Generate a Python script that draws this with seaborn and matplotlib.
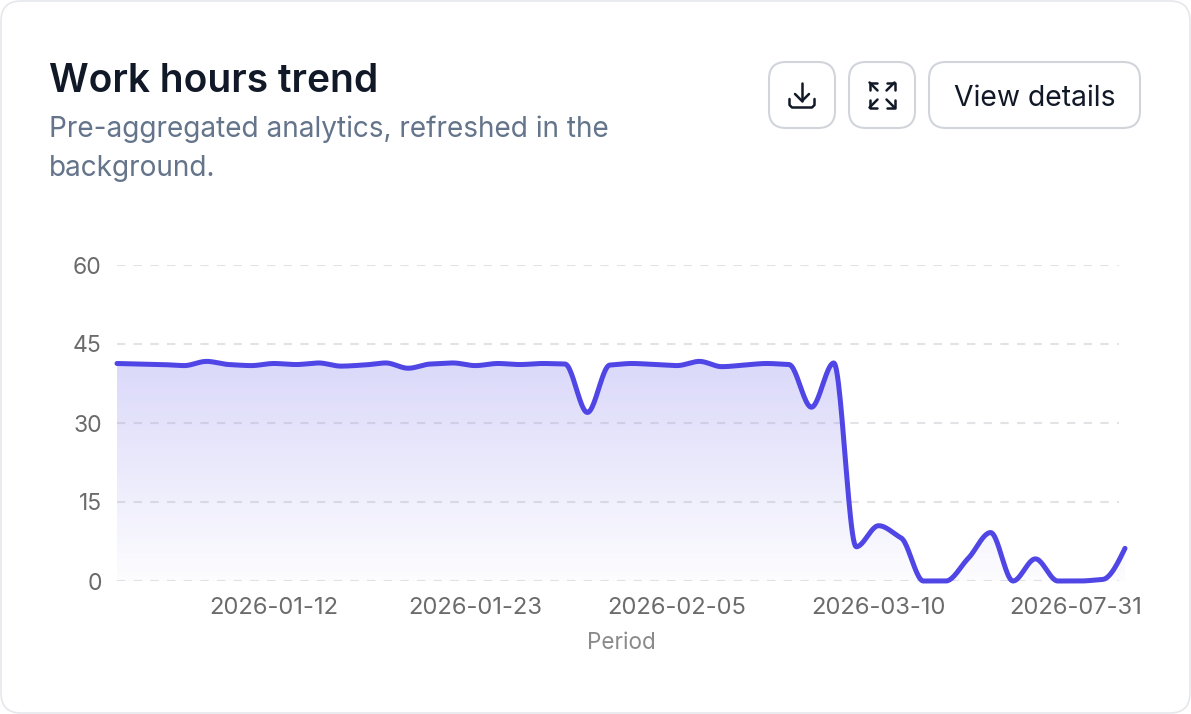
import numpy as np
import pandas as pd
import matplotlib
matplotlib.use('Agg')
import matplotlib.pyplot as plt
import seaborn as sns
from matplotlib.patches import FancyBboxPatch
from matplotlib.colors import to_rgb
from matplotlib.transforms import ScaledTranslation

# values, one per period
hours = [41.3, 41.2, 41.1, 40.9, 41.7, 41.1, 40.9, 41.3, 41.1, 41.4,
         40.8, 41.0, 41.4, 40.4, 41.2, 41.4, 40.9, 41.3, 41.1, 41.3,
         41.2, 32.0, 41.0, 41.3, 41.1, 40.9, 41.7, 40.7, 41.0, 41.3,
         41.1, 33.0, 41.4, 6.5, 10.5, 8.2, 0.0, 0.0, 4.3, 9.2,
         0.0, 4.2, 0.0, 0.0, 0.3, 6.2]
tick_pos = [7, 16, 25, 34, 43]
tick_labels = ['2026-01-12', '2026-01-23', '2026-02-05', '2026-03-10', '2026-07-31']
y_ticks = [0, 15, 30, 45, 60]

W, H = 1191, 714
LINE = '#4f46e5'
INK = '#111827'
BORDER = '#d1d5db'

sns.set_theme(style='white')
plt.rcParams['font.family'] = ['Inter', 'DejaVu Sans']


def monotone_curve(values, per_step=24):
    # monotone cubic, same kind of smoothing the chart line has
    y = np.asarray(values, dtype=float)
    x = np.arange(len(y), dtype=float)
    s = np.diff(y)
    m = np.zeros_like(y)
    for i in range(1, len(y) - 1):
        if s[i - 1] * s[i] > 0:
            m[i] = np.sign(s[i]) * min(abs(s[i - 1]), abs(s[i]), 0.5 * abs(s[i - 1] + s[i]))
    m[0] = (3 * s[0] - m[1]) / 2
    m[-1] = (3 * s[-1] - m[-2]) / 2
    xs, ys = [], []
    for i in range(len(y) - 1):
        t = np.linspace(0, 1, per_step, endpoint=False)
        h00 = 2 * t**3 - 3 * t**2 + 1
        h10 = t**3 - 2 * t**2 + t
        h01 = -2 * t**3 + 3 * t**2
        h11 = t**3 - t**2
        xs.append(x[i] + t)
        ys.append(h00 * y[i] + h10 * m[i] + h01 * y[i + 1] + h11 * m[i + 1])
    xs.append([x[-1]])
    ys.append([y[-1]])
    return np.concatenate(xs), np.concatenate(ys)


fig = plt.figure(figsize=(W / 100, H / 100), dpi=100, facecolor='white')

# page layer in pixel coordinates for the card and the header
bg = fig.add_axes([0, 0, 1, 1], zorder=0)
bg.set_xlim(0, W)
bg.set_ylim(H, 0)
bg.axis('off')
bg.add_patch(FancyBboxPatch((1, 1), W - 2, H - 2, boxstyle='round,pad=0,rounding_size=20',
                            fc='white', ec='#e5e7eb', lw=1.2))

bg.text(49, 81, 'Work hours trend', fontsize=28, fontweight='semibold', color=INK, va='center')
bg.text(49, 129, 'Pre-aggregated analytics, refreshed in the', fontsize=20.15, color='#64748b', va='center')
bg.text(49, 169, 'background.', fontsize=20.15, color='#64748b', va='center')

for x0, w in [(769, 66), (849, 66), (929, 211)]:
    bg.add_patch(FancyBboxPatch((x0, 62), w, 66, boxstyle='round,pad=0,rounding_size=17',
                                fc='white', ec=BORDER, lw=1.5))
bg.text(1034.5, 98, 'View details', fontsize=20.4, color=INK, ha='center', va='center')

# download icon
icon = dict(color=INK, lw=1.8, solid_capstyle='round', solid_joinstyle='round')
bg.plot([802, 802], [83, 101], **icon)
bg.plot([795, 802, 809], [94, 101, 94], **icon)
bg.plot([789.5, 789.5, 792, 812, 814.5, 814.5], [99, 105, 107.5, 107.5, 105, 99], **icon)

# expand icon
for cx, cy, dx, dy in [(869.5, 82.5, 1, 1), (894.5, 82.5, -1, 1), (869.5, 107.5, 1, -1), (894.5, 107.5, -1, -1)]:
    bg.plot([cx + dx * 7.5, cx, cx], [cy, cy, cy + dy * 7.5], **icon)
    bg.plot([cx, cx + dx * 8], [cy, cy + dy * 8], **icon)

# chart
left, right, top, bottom = 117, 1125, 265, 581
ax = fig.add_axes([left / W, 1 - bottom / H, (right - left) / W, (bottom - top) / H], zorder=1)
ax.patch.set_alpha(0)

xs, ys = monotone_curve(hours)
curve = pd.DataFrame({'period': xs, 'hours': ys})

# gradient under the line
grad = np.zeros((256, 2, 4))
grad[..., :3] = to_rgb(LINE)
grad[:, :, 3] = np.linspace(0.21, 0.015, 256)[:, None]
img = ax.imshow(grad, extent=[0, len(hours) - 1, 0, max(hours)], origin='upper',
                aspect='auto', zorder=1, interpolation='bilinear')
area = ax.fill_between(curve['period'], 0, curve['hours'], color='none', lw=0)
img.set_clip_path(area.get_paths()[0], transform=ax.transData)

for v in y_ticks:
    ax.axhline(v, xmin=0, xmax=0.994, color='#9ca3af', alpha=0.3, lw=1.5, dashes=(4.0, 4.0), zorder=2)

sns.lineplot(data=curve, x='period', y='hours', color=LINE, lw=3.6, ax=ax, zorder=3,
             estimator=None, sort=False, clip_on=False)

ax.set_xlim(0, len(hours) - 1)
ax.set_ylim(0, 60)
sns.despine(ax=ax, left=True, bottom=True)
ax.set_yticks(y_ticks)
ax.set_xticks(tick_pos)
ax.set_xticklabels(tick_labels)
ax.tick_params(axis='x', length=0, labelsize=17.1, labelcolor='#6b6b6b', pad=11.5)
ax.tick_params(axis='y', length=0, labelsize=16.5, labelcolor='#6b6b6b', pad=11)
ax.set_xlabel('')
ax.set_ylabel('')

# last label is pushed inward so it stays within the card padding
last = ax.get_xticklabels()[-1]
last.set_transform(last.get_transform() + ScaledTranslation(-5 / 100, 0, fig.dpi_scale_trans))

bg.text(621, 643, 'Period', fontsize=16.2, color='#8a8a8a', ha='center', va='center')

fig.savefig('out.png', dpi=100)
